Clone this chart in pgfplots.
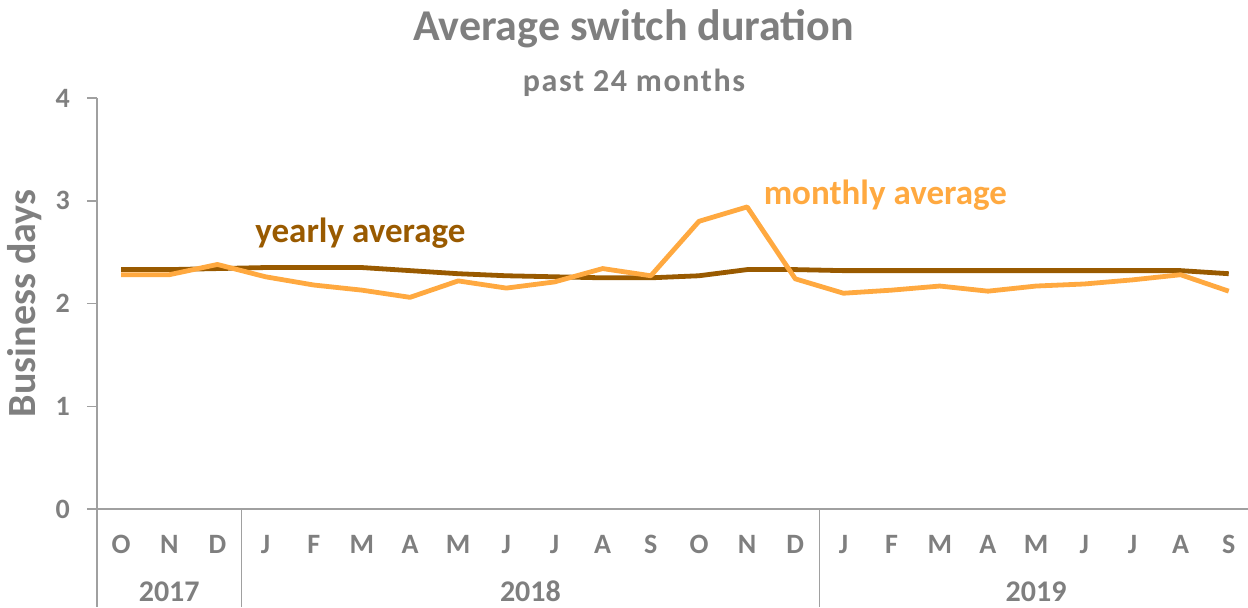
\documentclass[border=0pt]{standalone}
\usepackage{fontspec}
\setmainfont{Carlito}
\usepackage{pgfplots}
\pgfplotsset{compat=1.18}

\definecolor{txtgray}{HTML}{7F7F7F}
\definecolor{axgray}{HTML}{A0A0A0}
\definecolor{yearly}{HTML}{995A00}
\definecolor{monthly}{HTML}{FFA940}

\pgfplotstableread{
idx monthly yearly
0  2.28 2.33
1  2.28 2.33
2  2.38 2.34
3  2.26 2.35
4  2.18 2.35
5  2.13 2.35
6  2.06 2.32
7  2.22 2.29
8  2.15 2.27
9  2.21 2.26
10 2.34 2.25
11 2.27 2.25
12 2.80 2.27
13 2.94 2.33
14 2.24 2.33
15 2.10 2.32
16 2.13 2.32
17 2.17 2.32
18 2.12 2.32
19 2.17 2.32
20 2.19 2.32
21 2.23 2.32
22 2.28 2.32
23 2.12 2.29
}\switchdata

\begin{document}
\begin{tikzpicture}[font=\bfseries]
\begin{axis}[
    at={(0,0)}, anchor=south west,
    scale only axis,
    width=575.5pt, height=205.5pt,
    xmin=-0.5, xmax=23.4,
    ymin=0, ymax=4,
    axis lines*=left,
    axis line style={draw=axgray, line width=0.75pt},
    clip=false,
    xtick={0,...,23},
    xticklabels={O,N,D,J,F,M,A,M,J,J,A,S,O,N,D,J,F,M,A,M,J,J,A,S},
    ytick={0,1,2,3,4},
    tick align=outside,
    major tick length=5pt,
    x tick style={draw=none},
    y tick style={draw=axgray, line width=0.75pt},
    tick label style={font=\fontsize{14}{14}\selectfont\bfseries, text=txtgray},
    xticklabel style={anchor=base, yshift=-17pt},
    yticklabel style={anchor=east, xshift=-5pt},
    /pgf/number format/assume math mode=true,
    ylabel={Business days},
    ylabel style={at={(axis description cs:-0.0626,0.5)}, anchor=center,
        font=\fontsize{20}{20}\selectfont\bfseries, text=txtgray},
]
\addplot[yearly, line width=2.4pt, line join=round] table[x=idx, y=yearly] {\switchdata};
\addplot[monthly, line width=2.4pt, line join=round] table[x=idx, y=monthly] {\switchdata};

\draw[axgray, line width=0.75pt] (axis cs:-0.5,0) -- ([yshift=-49pt]axis cs:-0.5,0);
\draw[axgray, line width=0.75pt] (axis cs:2.5,0) -- ([yshift=-49pt]axis cs:2.5,0);
\draw[axgray, line width=0.75pt] (axis cs:14.5,0) -- ([yshift=-49pt]axis cs:14.5,0);

\node[anchor=base, text=txtgray, font=\fontsize{15}{15}\selectfont\bfseries]
    at ([yshift=-46pt]axis cs:1,0) {2017};
\node[anchor=base, text=txtgray, font=\fontsize{15}{15}\selectfont\bfseries]
    at ([yshift=-46pt]axis cs:8.5,0) {2018};
\node[anchor=base, text=txtgray, font=\fontsize{15}{15}\selectfont\bfseries]
    at ([yshift=-46pt]axis cs:19,0) {2019};

\node[anchor=base, text=yearly, font=\fontsize{17.5}{17.5}\selectfont\bfseries]
    at (axis cs:4.97,2.59) {yearly average};
\node[anchor=base, text=monthly, font=\fontsize{17.5}{17.5}\selectfont\bfseries]
    at (axis cs:15.87,2.965) {monthly average};
\end{axis}

\node[anchor=base, text=txtgray, font=\fontsize{22}{22}\selectfont\bfseries]
    at (268.25pt,234.15pt) {Average switch duration};
\node[anchor=base, text=txtgray, font=\fontsize{16}{16}\selectfont\bfseries\addfontfeature{LetterSpace=5}]
    at (268.5pt,209pt) {past 24 months};

\pgfresetboundingbox
\useasboundingbox (-48.5pt,-49pt) rectangle (575.5pt,254.5pt);
\end{tikzpicture}
\end{document}
